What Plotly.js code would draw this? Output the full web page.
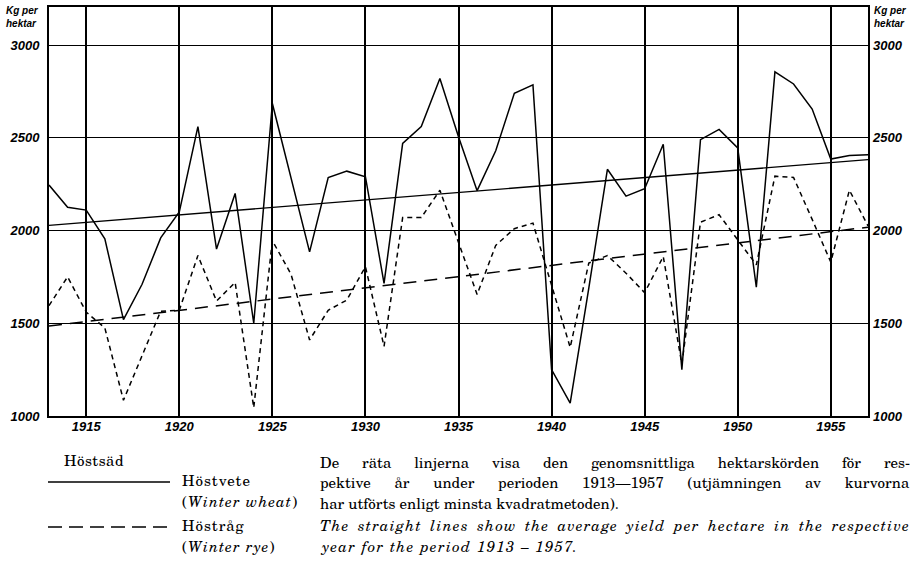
<!DOCTYPE html>
<html>
<head>
<meta charset="utf-8">
<script src="https://cdn.plot.ly/plotly-3.0.1.min.js"></script>
<style>
html,body{margin:0;padding:0;background:#fff;}
#chart{width:913px;height:570px;}
</style>
</head>
<body>
<div id="chart"></div>
<script>
// ---- data ----
var years = [1913,1914,1915,1916,1917,1918,1919,1920,1921,1922,1923,1924,1925,1926,1927,1928,1929,1930,
  1931,1932,1933,1934,1935,1936,1937,1938,1939,1940,1941,1942,1943,1944,1945,1946,1947,1948,1949,1950,
  1951,1952,1953,1954,1955,1956,1957];
var wheat = [2245,2125,2110,1955,1520,1710,1960,2100,2560,1900,2200,1500,2685,2285,1885,2285,2320,2290,
  1715,2470,2560,2820,2505,2215,2430,2740,2785,1250,1070,1690,2330,2185,2225,2465,1250,2490,2545,2445,
  1695,2855,2790,2655,2385,2405,2408];
var rye = [1595,1750,1560,1475,1085,1330,1565,1570,1865,1620,1720,1045,1945,1765,1410,1570,1625,1805,
  1375,2070,2070,2217,1940,1655,1920,2010,2040,1710,1370,1825,1865,1770,1665,1860,1280,2045,2085,1950,
  1815,2293,2286,2060,1830,2217,2025];
var trendYears = [1913, 1957];
var wheatTrend = [2028, 2382];
var ryeTrend = [1485, 2018];
var yTicks = [1000, 1500, 2000, 2500, 3000];
var xTicks = [1915, 1920, 1925, 1930, 1935, 1940, 1945, 1950, 1955];
var unitLabel = "Kg per<br>hektar";
var legendTitle = "Höstsäd";
var wheatName = ["Höstvete", "(<i>Winter wheat</i>)"];
var ryeName = ["Höstråg", "(<i>Winter rye</i>)"];
var noteLines = [
  "De räta linjerna visa den genomsnittliga hektarskörden för res-",
  "pektive år under perioden 1913—1957 (utjämningen av kurvorna",
  "har utförts enligt minsta kvadratmetoden).",
  "<i>The straight lines show the average yield per hectare in the respective</i>",
  "<i>year for the period 1913 – 1957.</i>"
];

// ---- layout geometry ----
var W = 913, H = 570;
var M = {l: 49, r: 45, t: 7, b: 154};
var PW = W - M.l - M.r, PH = H - M.t - M.b;
function px(x){ return (x - M.l) / PW; }
function py(y){ return (H - M.b - y) / PH; }

var tickFont = {family: "Liberation Sans", size: 13, color: "#000", weight: 700, style: "italic"};
var serif = {family: "TeX Gyre Schola", size: 15, color: "#000"};
var unitFont = {family: "Liberation Sans", size: 10, style: "italic", weight: 700, color: "#000"};

var traces = [
  {x: years, y: wheat, mode: "lines", line: {color: "#000", width: 1.5}, showlegend: false, hoverinfo: "x+y"},
  {x: years, y: rye, mode: "lines", line: {color: "#000", width: 1.5, dash: "5px,4px"}, showlegend: false, hoverinfo: "x+y"},
  {x: trendYears, y: wheatTrend, mode: "lines", line: {color: "#000", width: 1.3}, showlegend: false, hoverinfo: "skip"},
  {x: trendYears, y: ryeTrend, mode: "lines", line: {color: "#000", width: 1.5, dash: "13px,8px"}, showlegend: false, hoverinfo: "skip", yaxis: "y2"}
];

var ann = [];
var justify = {};   // annotation index -> target right edge (px)
var spacing = {};   // annotation index -> letter spacing (px)
function note(text, x, y, right, ls){
  if (right) justify[ann.length] = right;
  if (ls) spacing[ann.length] = ls;
  ann.push({text: text, xref: "paper", yref: "paper", x: px(x), y: py(y), xanchor: "left", yanchor: "middle",
    showarrow: false, font: serif, align: "left"});
}
ann.push({text: unitLabel, xref: "paper", yref: "paper", x: px(4), y: py(3), xanchor: "left", yanchor: "top",
  showarrow: false, align: "left", font: unitFont});
ann.push({text: unitLabel, xref: "paper", yref: "paper", x: px(872), y: py(3), xanchor: "left", yanchor: "top",
  showarrow: false, align: "left", font: unitFont});
note(legendTitle, 62, 460, 0, 0.5);
note(wheatName[0], 180, 480, 0, 1);
note(wheatName[1], 180, 501, 0, 1);
note(ryeName[0], 180, 525, 0, 1);
note(ryeName[1], 180, 546, 0, 1);
var noteY = [462, 482, 503, 525, 546];
var noteRight = [908, 908, 0, 908, 0];
var noteLS = [0, 0, 0, 1.2, 1.3];
for (var i = 0; i < noteLines.length; i++) {
  note(noteLines[i], 318, noteY[i], noteRight[i], noteLS[i]);
}

var shapes = [
  {type: "line", xref: "paper", yref: "paper", x0: px(48), x1: px(170), y0: py(482), y1: py(482), line: {color: "#000", width: 1.6}},
  {type: "line", xref: "paper", yref: "paper", x0: px(48), x1: px(170), y0: py(527), y1: py(527), line: {color: "#000", width: 1.6, dash: "14px,7px"}}
];

var layout = {
  width: W, height: H,
  margin: M,
  paper_bgcolor: "#fff", plot_bgcolor: "#fff",
  showlegend: false,
  xaxis: {range: [1913, 1957], tickvals: xTicks, ticktext: xTicks.map(String), showgrid: true, gridcolor: "#000", gridwidth: 2,
    showline: true, mirror: true, linecolor: "#000", linewidth: 2, ticks: "", tickfont: tickFont, zeroline: false, ticklabelstandoff: -3},
  yaxis: {range: [1000, 3205], tickvals: yTicks, ticktext: yTicks.map(String), showgrid: true, gridcolor: "#000", gridwidth: 1,
    showline: true, mirror: true, linecolor: "#000", linewidth: 2, ticks: "", tickfont: tickFont, zeroline: false, ticklabelstandoff: 5},
  yaxis2: {range: [1000, 3205], overlaying: "y", side: "right", tickvals: yTicks, ticktext: yTicks.map(String), showgrid: false,
    showline: false, ticks: "", tickfont: tickFont, zeroline: false, ticklabelstandoff: 4},
  annotations: ann,
  shapes: shapes
};

Plotly.newPlot("chart", traces, layout, {displayModeBar: false, staticPlot: true}).then(function(gd){
  function textOf(k){ return gd.querySelector('g.annotation[data-index="' + k + '"] text.annotation-text'); }
  Object.keys(spacing).forEach(function(k){
    var t = textOf(k);
    if (t) t.style.letterSpacing = spacing[k] + "px";
  });
  Object.keys(justify).forEach(function(k){
    var t = textOf(k);
    if (!t) return;
    var bb = t.getBBox();
    var spaces = (t.textContent.match(/ /g) || []).length;
    var target = justify[k] - 318;
    if (spaces > 0 && bb.width < target) {
      t.style.wordSpacing = ((target - bb.width) / spaces).toFixed(2) + "px";
    }
  });
});
</script>
</body>
</html>
